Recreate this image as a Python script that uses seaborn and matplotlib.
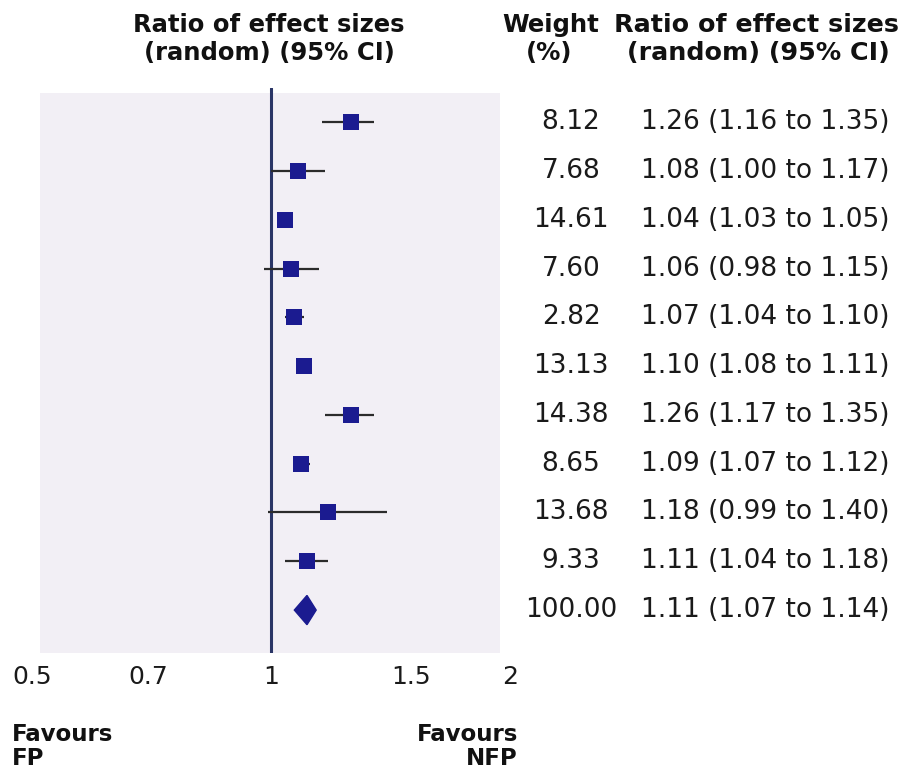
import matplotlib.pyplot as plt
import matplotlib.transforms as mtransforms
from matplotlib.patches import Rectangle
import pandas as pd
import seaborn as sns

# data
weights = ['8.12', '7.68', '14.61', '7.60', '2.82', '13.13', '14.38', '8.65', '13.68', '9.33', '100.00']
estimate = [1.26, 1.08, 1.04, 1.06, 1.07, 1.10, 1.26, 1.09, 1.18, 1.11, 1.11]
ci_low = [1.16, 1.00, 1.03, 0.98, 1.04, 1.08, 1.17, 1.07, 0.99, 1.04, 1.07]
ci_high = [1.35, 1.17, 1.05, 1.15, 1.10, 1.11, 1.35, 1.12, 1.40, 1.18, 1.14]
xticks = [0.5, 0.7, 1, 1.5, 2]
xtick_labels = ['0.5', '0.7', '1', '1.5', '2']

df = pd.DataFrame({'row': range(len(estimate)), 'est': estimate, 'lo': ci_low, 'hi': ci_high, 'weight': weights})
studies = df.iloc[:-1]
pooled = df.iloc[-1]

sns.set_style('white')
plt.rcParams['font.family'] = ['DejaVu Sans']

W, H = 914, 775
fig = plt.figure(figsize=(W / 100, H / 100), dpi=100)
ax = fig.add_axes([32 / W, 1 - 653 / H, 478 / W, 565 / H])

# light panel behind the plot
ax.add_patch(Rectangle((0.017, 0.0), 0.962, 0.991, transform=ax.transAxes,
                       facecolor='#f2eff5', edgecolor='none', zorder=0))

ax.axvline(1, color='#2a3566', lw=2.2, zorder=2)

ax.hlines(studies['row'], studies['lo'], studies['hi'], color='#2b2b2b', lw=1.6, zorder=3)
sns.scatterplot(data=studies, x='est', y='row', marker='s', s=130, color='#1b1b90',
                edgecolor='#1b1b90', linewidth=0, zorder=4, ax=ax, legend=False)

# pooled estimate as diamond
y0 = pooled['row']
ax.fill([pooled['lo'], pooled['est'], pooled['hi'], pooled['est']],
        [y0, y0 - 0.3, y0, y0 + 0.3], color='#1b1b90', zorder=4)

ax.set_xscale('log')
ax.set_xlim(0.5, 2)
ax.set_ylim(10.88, -0.70)
ax.set_xticks(xticks)
ax.set_xticklabels(xtick_labels)
ax.minorticks_off()
ax.tick_params(axis='x', length=0, pad=9, labelsize=18, labelcolor='#1a1a1a')
ax.set_yticks([])
ax.set_xlabel('')
ax.set_ylabel('')
for s in ax.spines.values():
    s.set_visible(False)
ax.patch.set_alpha(0)

# text columns, aligned with the rows
trans = mtransforms.blended_transform_factory(fig.transFigure, ax.transData)
for _, r in df.iterrows():
    ax.text(571 / W, r['row'], r['weight'], transform=trans, ha='center', va='center',
            fontsize=19, color='#1a1a1a')
    ax.text(641 / W, r['row'], f"{r['est']:.2f} ({r['lo']:.2f} to {r['hi']:.2f})",
            transform=trans, ha='left', va='center', fontsize=19, color='#1a1a1a')

# headers
hdr = dict(fontweight='bold', color='#111111', va='baseline')
fig.text(269 / W, 1 - 32 / H, 'Ratio of effect sizes', ha='center', fontsize=17.5, **hdr)
fig.text(269 / W, 1 - 60 / H, '(random) (95% CI)', ha='center', fontsize=17.5, **hdr)
fig.text(551 / W, 1 - 32 / H, 'Weight', ha='center', fontsize=17.5, **hdr)
fig.text(549 / W, 1 - 60 / H, '(%)', ha='center', fontsize=17.5, **hdr)
fig.text(756 / W, 1 - 32 / H, 'Ratio of effect sizes', ha='center', fontsize=18.3, **hdr)
fig.text(758 / W, 1 - 60 / H, '(random) (95% CI)', ha='center', fontsize=18.3, **hdr)

ftr = dict(fontsize=16.5, fontweight='bold', color='#111111', va='baseline')
fig.text(12 / W, 1 - 741 / H, 'Favours', ha='left', **ftr)
fig.text(12 / W, 1 - 765 / H, 'FP', ha='left', **ftr)
fig.text(518 / W, 1 - 741 / H, 'Favours', ha='right', **ftr)
fig.text(518 / W, 1 - 765 / H, 'NFP', ha='right', **ftr)

fig.savefig('out.png', dpi=100)
